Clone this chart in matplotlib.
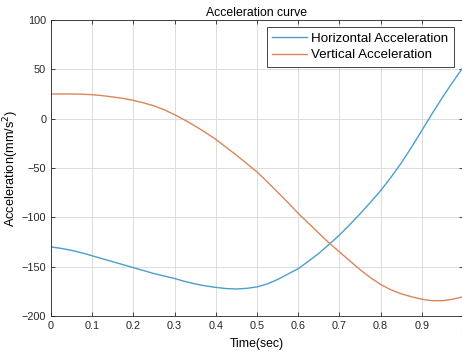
import numpy as np
import matplotlib
matplotlib.use('Agg')
import matplotlib.pyplot as plt

# values
t = [0.0, 0.025, 0.05, 0.075, 0.1, 0.125, 0.15, 0.175, 0.2, 0.225,
     0.25, 0.275, 0.3, 0.325, 0.35, 0.375, 0.4, 0.425, 0.45, 0.475,
     0.5, 0.525, 0.55, 0.575, 0.6, 0.625, 0.65, 0.675, 0.7, 0.725,
     0.75, 0.775, 0.8, 0.825, 0.85, 0.875, 0.9, 0.925, 0.95, 0.975, 1.0]
horiz_acc = [-130, -131.5, -133.5, -136, -139, -142, -145, -148, -151, -154,
             -157, -159.5, -162, -165, -167.5, -169.5, -171, -172.2, -172.6, -172,
             -170.5, -167.5, -163, -157.5, -152, -144.5, -136.5, -127.5, -118, -107.5,
             -96.5, -85, -73, -59.5, -45, -29, -12, 5, 21.5, 37, 52]
vert_acc = [25, 25, 25, 24.8, 24.3, 23.3, 22, 20.5, 18.5, 16,
            13, 9, 4, -1.5, -7.5, -14, -21, -29, -37, -45.5,
            -54, -64, -74.5, -85, -96, -106, -116, -126, -135, -144,
            -153, -161, -168, -173.5, -177.5, -180.5, -183, -184.5, -184.5, -183, -180.5]
xticks = [0, 0.1, 0.2, 0.3, 0.4, 0.5, 0.6, 0.7, 0.8, 0.9, 1]
xticklabels = ['0', '0.1', '0.2', '0.3', '0.4', '0.5', '0.6', '0.7', '0.8', '0.9', '1']
yticks = [-200, -150, -100, -50, 0, 50, 100]

plt.rcParams['font.family'] = ['Liberation Sans', 'DejaVu Sans']

fig = plt.figure(figsize=(4.62, 3.53), dpi=100, facecolor='white')
ax = fig.add_axes([51 / 462, 37 / 353, 412 / 462, 296 / 353])

ax.plot(t, horiz_acc, color='#4A9FCC', lw=1.0, label='Horizontal Acceleration')
ax.plot(t, vert_acc, color='#D9865A', lw=1.0, label='Vertical Acceleration')

ax.set_xlim(0, 1)
ax.set_ylim(-200, 100)
ax.set_xticks(xticks)
ax.set_xticklabels(xticklabels)
ax.set_yticks(yticks)
ax.grid(True, color='#DCDCDC', lw=0.7)
ax.set_axisbelow(True)
ax.tick_params(direction='in', top=True, right=True, length=3, width=0.6,
               labelsize=7.8, colors='#262626', pad=3.5)
for s in ax.spines.values():
    s.set_color('#262626')
    s.set_linewidth(0.6)

ax.set_title('Acceleration curve', fontsize=8.8, pad=3)
ax.set_xlabel('Time(sec)', fontsize=8.8, labelpad=5)
ax.set_ylabel('Acceleration(mm/s$^2$)', fontsize=9.2)
ax.yaxis.set_label_coords(-0.074, 0.5)

leg = ax.legend(loc='upper right', bbox_to_anchor=(0.977, 0.975), fontsize=9.6,
                fancybox=False, framealpha=1, edgecolor='#262626',
                handlelength=2.6, borderpad=0.4, labelspacing=0.3, handletextpad=0.3,
                borderaxespad=0)
leg.get_frame().set_linewidth(0.6)

fig.savefig('out.png', dpi=100)
